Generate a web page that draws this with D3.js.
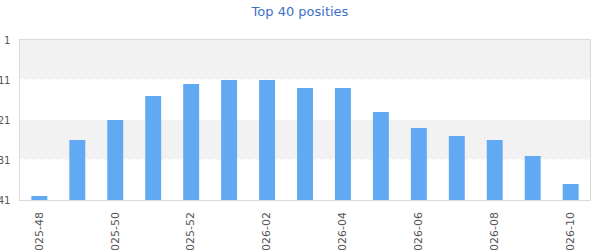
<!DOCTYPE html>
<meta charset="utf-8">
<style>
body { margin: 0; background: #fff; }
text { font-family: "DejaVu Sans", sans-serif; }
</style>
<svg width="600" height="250"></svg>
<script src="https://d3js.org/d3.v7.min.js"></script>
<script>

var weeks = ["2025-48", "2025-49", "2025-50", "2025-51", "2025-52",
             "2026-01", "2026-02", "2026-03", "2026-04", "2026-05",
             "2026-06", "2026-07", "2026-08", "2026-09", "2026-10"];
var positions = [40, 26, 21, 15, 12, 11, 11, 13, 13, 19, 23, 25, 26, 30, 37];
var yTicks = [1, 11, 21, 31, 41];
var bands = [[1, 11], [21, 31]];

var svg = d3.select("svg"),
    margin = {top: 40, right: 10, bottom: 50, left: 20},
    width = +svg.attr("width") - margin.left - margin.right,
    height = +svg.attr("height") - margin.top - margin.bottom;

svg.append("text")
    .attr("x", 300)
    .attr("y", 16)
    .attr("text-anchor", "middle")
    .style("font-size", "13px")
    .style("fill", "#3d6fc7")
    .text("Top 40 posities");

var g = svg.append("g").attr("transform", "translate(" + margin.left + "," + margin.top + ")");

var x = d3.scaleBand()
    .domain(weeks)
    .range([0, width])
    .paddingInner(0.58)
    .paddingOuter(0.3);

var y = d3.scaleLinear()
    .domain([1, 41])
    .range([0, height]);

// gray bands
g.selectAll(".band")
  .data(bands)
  .enter().append("rect")
    .attr("x", 0)
    .attr("width", width)
    .attr("y", function(d) { return y(d[0]); })
    .attr("height", function(d) { return y(d[1]) - y(d[0]); })
    .attr("fill", "#f2f2f2");

// dashed grid
g.selectAll(".grid")
  .data([11, 31])
  .enter().append("line")
    .attr("x1", 0).attr("x2", width)
    .attr("y1", function(d) { return y(d) - 0.5; })
    .attr("y2", function(d) { return y(d) - 0.5; })
    .attr("stroke", "#fff")
    .attr("stroke-dasharray", "5,3");

g.selectAll(".bar")
  .data(positions)
  .enter().append("rect")
    .attr("x", function(d, i) { return x(weeks[i]); })
    .attr("width", x.bandwidth())
    .attr("y", function(d) { return y(d); })
    .attr("height", function(d) { return y(41) - y(d); })
    .attr("fill", "#62a9f4");

// frame
g.append("rect")
    .attr("x", -0.5).attr("y", -0.5)
    .attr("width", width + 1).attr("height", height + 1)
    .attr("fill", "none")
    .attr("stroke", "#dadada");

var yAxis = g.append("g")
    .call(d3.axisLeft(y).tickValues(yTicks).tickSize(0).tickPadding(10));
yAxis.select(".domain").remove();
yAxis.selectAll("text")
    .style("font-family", "'DejaVu Sans Mono', monospace")
    .style("font-size", "10px")
    .style("fill", "#555");

var xAxis = g.append("g")
    .attr("transform", "translate(0," + height + ")")
    .call(d3.axisBottom(x).tickValues(weeks.filter(function(d, i) { return i % 2 === 0; })).tickSize(0));
xAxis.select(".domain").remove();
xAxis.selectAll("text")
    .attr("transform", "rotate(-90)")
    .attr("x", -12)
    .attr("y", 0)
    .attr("dy", "0.3em")
    .attr("text-anchor", "end")
    .style("font-size", "11px")
    .style("fill", "#555");

</script>
